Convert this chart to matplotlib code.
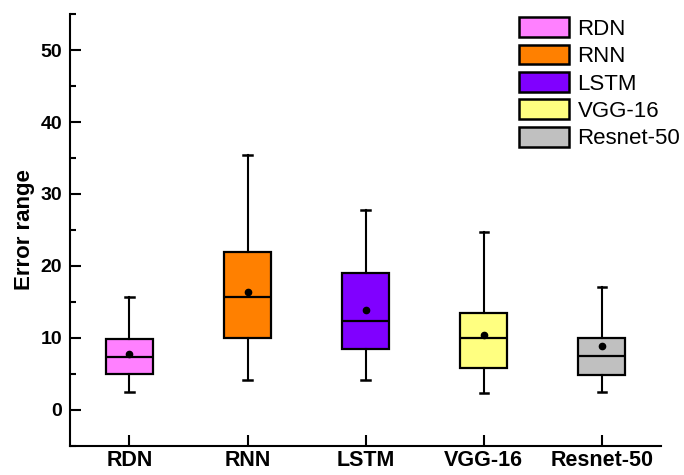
import matplotlib.pyplot as plt
import matplotlib.patches as mpatches
from matplotlib.ticker import MultipleLocator

plt.switch_backend('agg')
plt.rcParams['font.family'] = ['Liberation Sans', 'DejaVu Sans']

# box statistics
models = ['RDN', 'RNN', 'LSTM', 'VGG-16', 'Resnet-50']
whisker_low = [2.4, 4.1, 4.1, 2.3, 2.4]
q1 = [5.0, 10.0, 8.5, 5.8, 4.8]
median = [7.3, 15.7, 12.3, 9.9, 7.5]
q3 = [9.8, 21.9, 19.0, 13.5, 9.9]
whisker_high = [15.6, 35.4, 27.8, 24.7, 17.0]
mean = [7.8, 16.3, 13.8, 10.4, 8.8]
colors = ['#FF80FF', '#FF8000', '#8000FF', '#FFFF80', '#C0C0C0']

stats = []
for i, name in enumerate(models):
    stats.append(dict(label=name, whislo=whisker_low[i], q1=q1[i], med=median[i],
                      q3=q3[i], whishi=whisker_high[i], mean=mean[i], fliers=[]))

fig, ax = plt.subplots(figsize=(6.84, 4.75), dpi=100)

bp = ax.bxp(stats, positions=range(1, len(models) + 1), widths=0.4, capwidths=0.07,
            patch_artist=True, showmeans=True,
            boxprops=dict(edgecolor='black', linewidth=1.6),
            medianprops=dict(color='black', linewidth=1.6),
            whiskerprops=dict(color='black', linewidth=1.5),
            capprops=dict(color='black', linewidth=1.8),
            meanprops=dict(marker='o', markerfacecolor='black', markeredgecolor='black',
                           markersize=4.5))
for patch, c in zip(bp['boxes'], colors):
    patch.set_facecolor(c)

ax.set_xlim(0.5, 5.5)
ax.set_ylim(-5, 55)
ax.yaxis.set_major_locator(MultipleLocator(10))
ax.yaxis.set_minor_locator(MultipleLocator(5))
ax.spines['top'].set_visible(False)
ax.spines['right'].set_visible(False)
ax.spines['left'].set_linewidth(1.5)
ax.spines['bottom'].set_linewidth(1.5)
ax.tick_params(axis='y', which='major', direction='in', length=8, width=1.5, pad=6)
ax.tick_params(axis='x', which='major', direction='in', length=8, width=1.5, pad=3)
ax.tick_params(axis='y', which='minor', direction='in', length=4, width=1.5)
ax.set_xticklabels(models, fontsize=15.5, fontweight='bold')
for lbl in ax.get_yticklabels():
    lbl.set_fontsize(14)
    lbl.set_fontweight('bold')
ax.set_ylabel('Error range', fontsize=16, fontweight='bold', labelpad=4)

handles = [mpatches.Patch(facecolor=c, edgecolor='black', linewidth=1.8, label=m)
           for c, m in zip(colors, models)]
ax.legend(handles=handles, loc='upper right', bbox_to_anchor=(1.052, 1.019), frameon=False,
          fontsize=16, handlelength=2.25, handleheight=1.0, labelspacing=0.22,
          handletextpad=0.4, borderpad=0.0)

fig.subplots_adjust(left=0.103, right=0.966, bottom=0.062, top=0.97)
fig.savefig('out.png')
